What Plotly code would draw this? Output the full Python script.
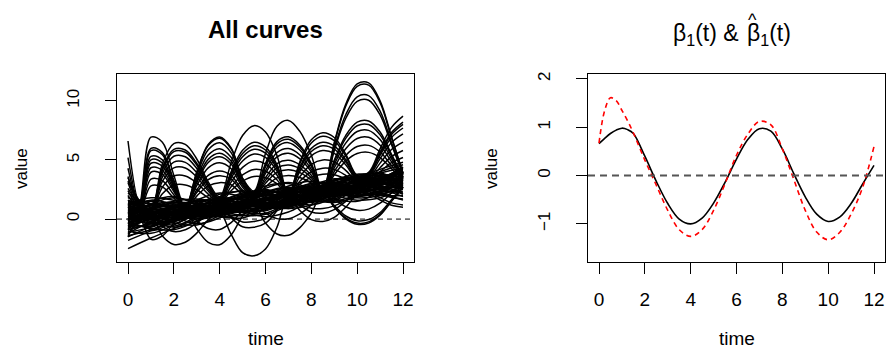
import plotly.graph_objects as go

# ---------------- data ----------------
time_coarse = [0, 1, 2, 3, 4, 5, 6, 7, 8, 9, 10, 11, 12]
time_fine = [0, 0.5, 1, 1.5, 2, 2.5, 3, 3.5, 4, 4.5, 5, 5.5, 6, 6.5, 7, 7.5,
             8, 8.5, 9, 9.5, 10, 10.5, 11, 11.5, 12]

# smooth "band" curves (sampled at integer times)
band_curves = [
    [0.2, 0.9, 1.3, 0.8, 0.4, 1.0, 2.2, 2.6, 1.9, 1.7, 2.8, 3.6, 3.2],
    [-0.8, 0.1, 0.9, 1.6, 1.5, 0.9, 1.1, 2.1, 2.9, 3.0, 2.3, 2.1, 2.8],
    [1.2, 1.5, 0.8, 0.3, 0.9, 2.0, 2.5, 1.8, 1.4, 2.2, 3.5, 3.9, 3.0],
    [0.5, -0.3, -0.6, 0.2, 1.3, 1.8, 1.2, 0.9, 1.6, 2.7, 3.1, 2.5, 2.2],
    [-1.5, -0.6, 0.4, 0.9, 0.6, 0.8, 1.6, 2.4, 2.5, 2.0, 2.2, 3.3, 4.2],
    [1.6, 1.0, 0.5, 1.0, 1.9, 2.4, 1.8, 1.3, 1.9, 3.0, 3.4, 2.8, 2.6],
    [0.0, 0.6, 0.2, -0.4, 0.1, 1.1, 1.7, 1.5, 1.2, 1.8, 2.9, 3.2, 2.5],
    [-0.4, 0.4, 1.1, 1.3, 0.8, 0.6, 1.3, 2.3, 2.8, 2.4, 1.9, 2.4, 3.6],
    [0.9, 0.2, 0.0, 0.7, 1.6, 1.7, 1.0, 1.0, 2.0, 3.1, 3.3, 2.6, 1.9],
    [-1.0, -1.2, -0.5, 0.5, 1.0, 0.6, 0.5, 1.4, 2.4, 2.6, 2.0, 2.2, 3.3],
    [0.4, 1.3, 1.8, 1.4, 1.0, 1.5, 2.6, 3.1, 2.6, 2.3, 3.0, 4.0, 4.6],
    [1.0, 0.3, 0.4, 1.2, 2.1, 2.3, 1.6, 1.5, 2.3, 3.3, 3.6, 3.3, 3.5],
    [-0.2, -0.8, -0.9, -0.2, 0.5, 0.6, 0.2, 0.6, 1.5, 1.9, 1.6, 1.8, 2.7],
    [0.7, 1.1, 0.9, 0.6, 0.8, 1.6, 2.3, 2.2, 1.9, 2.4, 3.2, 3.5, 3.9],
    [-0.6, 0.0, 0.6, 0.9, 0.5, 0.3, 0.9, 1.8, 2.1, 1.7, 1.5, 2.3, 3.0],
    [1.3, 1.8, 1.6, 1.0, 0.9, 1.8, 2.8, 3.0, 2.4, 2.5, 3.4, 4.2, 4.8],
    [0.1, -0.4, 0.1, 0.9, 1.1, 0.7, 0.8, 1.7, 2.5, 2.6, 2.4, 2.9, 3.8],
    [-1.8, -1.0, -0.2, 0.3, 0.2, 0.4, 1.3, 2.0, 1.8, 1.5, 2.1, 3.1, 3.4],
    [0.6, 0.7, 0.3, 0.4, 1.1, 1.4, 1.3, 1.6, 2.2, 2.7, 2.7, 2.9, 3.1],
    [0.3, 1.0, 1.5, 1.7, 1.3, 1.2, 1.9, 2.8, 3.2, 2.8, 2.6, 3.3, 4.1],
    [-0.3, 0.2, 0.3, 0.0, 0.3, 1.0, 1.4, 1.2, 1.5, 2.3, 2.9, 2.6, 2.3],
    [1.8, 1.2, 0.6, 0.6, 1.4, 2.2, 2.3, 1.7, 1.6, 2.6, 3.7, 3.8, 3.2],
    [-1.2, -0.2, 0.7, 1.1, 1.0, 1.0, 1.6, 2.3, 2.3, 2.1, 2.6, 3.5, 3.9],
    [0.8, 0.4, -0.3, -0.5, 0.3, 1.2, 1.3, 0.9, 1.2, 2.1, 2.6, 2.2, 1.6],
    [0.0, 0.8, 1.2, 1.0, 1.2, 1.9, 2.4, 2.1, 2.0, 2.8, 3.5, 3.4, 3.0],
    [-0.5, -0.6, 0.0, 0.6, 0.7, 0.9, 1.5, 1.9, 1.7, 1.9, 2.6, 3.1, 2.9],
    [1.1, 0.8, 1.0, 1.5, 1.7, 1.4, 1.6, 2.4, 3.0, 3.0, 2.8, 3.4, 4.4],
    [-0.9, -0.3, 0.5, 0.7, 0.2, 0.1, 0.9, 1.6, 1.6, 1.4, 1.9, 2.7, 2.6],
    [0.5, 1.5, 1.9, 1.2, 0.6, 1.2, 2.3, 2.7, 2.2, 2.0, 2.9, 3.7, 3.5],
    [-2.5, -1.6, -0.8, 0.0, 0.5, 0.6, 0.8, 1.3, 2.0, 2.4, 2.3, 2.5, 3.0],
    [0.2, 0.1, 0.5, 1.3, 1.8, 1.6, 1.1, 1.3, 2.2, 3.2, 3.5, 3.0, 2.7],
    [1.4, 0.7, 0.1, 0.3, 1.0, 1.5, 1.2, 1.1, 1.8, 2.5, 2.6, 2.3, 2.5],
    [-0.1, 0.5, 0.8, 0.5, 0.6, 1.3, 2.0, 2.0, 1.8, 2.2, 3.0, 3.3, 3.3],
    [0.6, -0.2, -0.4, 0.4, 0.9, 0.9, 1.0, 1.8, 2.7, 2.9, 2.4, 2.6, 3.5],
    [-0.7, 0.3, 1.0, 1.2, 1.6, 2.1, 2.4, 2.2, 2.5, 3.3, 3.8, 3.6, 3.6],
    [0.9, 1.6, 1.2, 0.4, 0.3, 0.9, 1.8, 2.0, 1.5, 1.6, 2.4, 2.8, 2.1],
    [0.3, 0.0, 0.2, 0.8, 1.4, 2.0, 2.1, 1.8, 2.1, 2.9, 3.2, 2.9, 3.2],
    [-1.4, -0.9, -0.1, 0.6, 0.7, 0.3, 0.4, 1.1, 1.9, 2.2, 1.8, 2.0, 2.9],
    [1.2, 0.5, 0.7, 1.6, 2.2, 1.9, 1.6, 2.0, 2.8, 3.4, 3.3, 3.5, 4.0],
    [0.0, 1.2, 1.4, 0.9, 0.8, 1.4, 2.1, 2.5, 2.6, 2.4, 2.5, 3.3, 4.4],
    [0.1, 0.3, 0.9, 1.5, 1.2, 0.7, 1.0, 1.9, 2.6, 2.5, 2.2, 2.8, 3.7],
    [-0.3, 0.5, 0.6, 0.2, 0.5, 1.4, 2.0, 1.7, 1.6, 2.4, 3.2, 3.0, 2.6],
    [0.8, 0.0, -0.2, 0.5, 1.2, 1.3, 0.9, 1.2, 2.1, 2.8, 2.7, 2.5, 3.0],
    [-0.9, -0.4, 0.2, 0.6, 0.9, 1.2, 1.6, 1.9, 2.1, 2.3, 2.6, 3.0, 3.4],
    [1.5, 1.3, 1.0, 0.9, 1.3, 1.9, 2.1, 2.0, 2.3, 3.0, 3.6, 3.7, 3.8],
    [0.4, 0.8, 0.5, 0.1, 0.4, 0.9, 1.2, 1.3, 1.9, 2.5, 2.4, 2.0, 2.0],
    [-0.2, 0.1, 0.7, 1.2, 1.4, 1.1, 1.3, 2.2, 3.0, 3.1, 2.8, 3.2, 4.0],
    [0.6, 1.2, 1.1, 0.7, 0.7, 1.4, 2.2, 2.4, 2.2, 2.5, 3.3, 3.9, 4.3],
    [-0.6, -0.5, -0.2, 0.3, 0.8, 1.0, 1.1, 1.4, 1.9, 2.1, 2.2, 2.6, 3.2],
    [0.2, 0.6, 1.0, 1.1, 1.0, 1.1, 1.6, 2.1, 2.4, 2.6, 2.9, 3.2, 3.4],
    [1.0, 0.6, 0.3, 0.8, 1.5, 1.7, 1.4, 1.5, 2.4, 3.3, 3.4, 3.0, 3.3],
    [-1.1, -0.7, 0.1, 0.9, 1.2, 0.8, 0.7, 1.5, 2.2, 2.3, 2.0, 2.4, 3.1],
    [0.5, 0.9, 1.4, 1.3, 0.9, 1.0, 1.7, 2.5, 2.7, 2.3, 2.4, 3.4, 4.3],
    [0.0, -0.3, -0.1, 0.6, 1.3, 1.5, 1.3, 1.4, 2.0, 2.9, 3.4, 3.2, 2.8],
    [1.3, 0.9, 0.8, 1.1, 1.5, 1.8, 2.0, 2.2, 2.6, 2.9, 3.0, 3.3, 3.9],
    [-0.4, 0.2, 0.4, 0.4, 0.6, 1.2, 1.8, 2.0, 1.9, 2.0, 2.7, 3.4, 3.4],
]

# curves with large arches (sampled every 0.5)
arch_curves = [
    [6.6, 1.4, 6.93, 6.5, 3.7, 1.0, 3.97, 6.31, 6.94, 6.02, 3.47, 2.37, 5.54, 7.85, 8.34, 7.41, 5.4, 2.43, 6.45, 9.7, 11.42, 11.52, 10.0, 6.95, 3.9],
    [5.2, 1.26, 5.97, 5.62, 3.27, 0.97, 3.92, 6.22, 6.84, 5.94, 3.43, 2.2, 4.7, 6.55, 6.95, 6.25, 4.7, 2.4, 6.36, 9.54, 11.22, 11.32, 9.84, 6.86, 3.88],
    [4.3, 1.23, 5.78, 5.44, 3.18, 0.96, 3.71, 5.86, 6.45, 5.62, 3.29, 2.18, 4.58, 6.36, 6.75, 6.08, 4.6, 2.4, 5.96, 8.82, 10.34, 10.44, 9.12, 6.46, 3.79],
    [3.6, 1.15, 5.3, 5.0, 2.95, 0.95, 3.45, 5.41, 5.95, 5.22, 3.12, 2.14, 4.4, 6.09, 6.46, 5.84, 4.45, 2.39, 5.78, 8.5, 9.95, 10.05, 8.8, 6.28, 3.75],
    [3.1, 1.11, 5.01, 4.74, 2.82, 0.94, 3.24, 5.05, 5.56, 4.9, 2.98, 2.08, 4.1, 5.62, 5.96, 5.42, 4.2, 2.38, 4.97, 7.06, 8.19, 8.29, 7.36, 5.47, 3.57],
    [2.4, 1.06, 4.72, 4.47, 2.68, 0.93, 3.08, 4.78, 5.26, 4.66, 2.87, 2.03, 3.86, 5.25, 5.56, 5.09, 4.0, 2.37, 4.83, 6.82, 7.89, 7.99, 7.12, 5.33, 3.54],
    [2.0, 1.0, 4.34, 4.12, 2.5, 0.92, 2.82, 4.33, 4.76, 4.26, 2.7, 1.96, 3.5, 4.69, 4.97, 4.59, 3.7, 2.36, 4.6, 6.42, 7.4, 7.5, 6.72, 5.1, 3.49],
    [1.6, 0.94, 3.96, 3.77, 2.32, 0.9, 2.46, 3.7, 4.07, 3.7, 2.45, 1.91, 3.26, 4.32, 4.57, 4.26, 3.5, 2.35, 4.34, 5.94, 6.81, 6.91, 6.24, 4.84, 3.43],
    [1.3, 0.85, 3.38, 3.24, 2.05, 0.89, 2.25, 3.34, 3.67, 3.38, 2.31, 1.86, 3.02, 3.95, 4.18, 3.93, 3.3, 2.34, 4.02, 5.38, 6.13, 6.23, 5.68, 4.52, 3.36],
    [1.0, 0.76, 2.8, 2.71, 1.78, 0.87, 1.94, 2.8, 3.08, 2.9, 2.1, 1.8, 2.72, 3.48, 3.68, 3.51, 3.05, 2.33, 3.75, 4.9, 5.54, 5.64, 5.2, 4.25, 3.3],
    [-1.5, 0.05, -1.71, -1.42, -0.34, 0.7, -0.82, -1.97, -2.17, -1.34, 0.24, 1.19, -0.34, -1.26, -1.37, -0.72, 0.5, 2.23, 1.05, 0.1, -0.34, -0.24, 0.4, 1.55, 2.7],
    [-0.9, 0.17, -0.94, -0.72, 0.02, 0.75, -0.14, -0.8, -0.88, -0.3, 0.7, 1.36, 0.5, 0.04, 0.02, 0.44, 1.2, 2.25, 1.14, 0.26, -0.14, -0.04, 0.56, 1.64, 2.72],
    [-0.12, 0.56, -0.06, 0.11, 0.59, 1.08, 0.63, 0.31, 0.31, 0.72, 1.31, 1.76, 1.28, 1.08, 1.11, 1.4, 1.9, 2.58, 1.71, 1.04, 0.74, 0.84, 1.34, 2.21, 3.08],
    [-0.18, 0.31, -0.08, 0.07, 0.43, 0.78, 0.48, 0.28, 0.31, 0.66, 1.12, 1.48, 1.1, 0.97, 1.01, 1.27, 1.7, 2.28, 1.0, 0.02, -0.44, -0.34, 0.32, 1.5, 2.69],
    [3.49, 1.56, 0.79, 4.66, 6.38, 6.31, 5.08, 3.15, 1.86, 4.77, 7.07, 7.9, 7.37, 5.37, 2.1, 4.85, 6.7, 7.3, 6.9, 5.5, 3.7, 3.95, 5.94, 7.75, 8.7],
    [3.22, 1.46, 0.77, 4.31, 5.89, 5.84, 4.72, 2.96, 1.69, 4.0, 5.81, 6.5, 6.11, 4.6, 2.1, 4.69, 6.43, 7.0, 6.63, 5.32, 3.63, 3.84, 5.66, 7.32, 8.2],
    [2.2, 1.42, 0.76, 4.17, 5.7, 5.65, 4.57, 2.89, 1.65, 3.83, 5.54, 6.2, 5.84, 4.43, 2.09, 4.41, 5.98, 6.5, 6.18, 5.02, 3.52, 3.8, 5.55, 7.15, 8.0],
    [1.5, 1.34, 0.74, 3.89, 5.31, 5.27, 4.28, 2.74, 1.62, 3.67, 5.27, 5.9, 5.57, 4.27, 2.08, 4.25, 5.71, 6.2, 5.91, 4.84, 3.46, 3.73, 5.39, 6.9, 7.7],
    [2.6, 1.24, 0.71, 3.54, 4.82, 4.79, 3.92, 2.55, 1.57, 3.45, 4.91, 5.5, 5.21, 4.05, 2.07, 4.03, 5.35, 5.8, 5.55, 4.6, 3.37, 3.62, 5.11, 6.47, 7.2],
    [1.0, 1.14, 0.69, 3.19, 4.33, 4.32, 3.56, 2.37, 1.5, 3.12, 4.37, 4.9, 4.67, 3.72, 2.05, 3.59, 4.63, 5.0, 4.83, 4.12, 3.19, 3.47, 4.73, 5.88, 6.5],
    [1.9, 1.0, 0.65, 2.7, 3.64, 3.65, 3.06, 2.11, 1.41, 2.73, 3.74, 4.2, 4.04, 3.33, 2.04, 3.2, 4.0, 4.3, 4.2, 3.7, 3.04, 3.32, 4.34, 5.28, 5.8],
    [1.2, 0.84, 0.61, 2.14, 2.86, 2.89, 2.48, 1.81, 1.34, 2.4, 3.2, 3.6, 3.5, 3.0, 2.03, 2.93, 3.55, 3.8, 3.75, 3.4, 2.93, 3.18, 4.01, 4.77, 5.2],
    [-1.3, -0.18, 0.35, -1.43, -2.14, -1.96, -1.19, -0.07, 0.54, -1.29, -2.83, -3.1, -2.53, -0.69, 1.95, 0.72, -0.05, -0.2, 0.15, 1.0, 2.05, 2.3, 1.81, 1.37, 1.2],
    [-0.4, 0.2, 0.6, -0.6, -1.06, -0.9, -0.34, 0.46, 1.0, 0.12, -0.65, -0.7, -0.35, 0.72, 2.16, 1.2, 0.6, 0.5, 0.8, 1.5, 2.36, 2.57, 2.17, 1.82, 1.7],
    [-0.56, -0.04, 0.24, -0.44, -0.68, -0.54, -0.16, 0.36, 0.71, 0.22, -0.24, -0.2, 0.06, 0.82, 1.78, 1.24, 0.92, 0.9, 1.12, 1.58, 2.0, 2.1, 1.61, 1.17, 1.0],
]

# right panel: true and estimated coefficient function
beta_time = [0, 0.25, 0.5, 0.75, 1, 1.25, 1.5, 2, 2.5, 3, 3.5, 4, 4.5, 5, 5.5, 6,
             6.5, 7, 7.5, 8, 8.5, 9, 9.5, 10, 10.5, 11, 11.5, 12]
beta_true = [0.66, 0.77, 0.87, 0.94, 0.98, 0.95, 0.87, 0.40, -0.12, -0.58, -0.90, -1.0,
             -0.88, -0.57, -0.14, 0.34, 0.75, 0.97, 0.92, 0.55, 0.04, -0.44, -0.80, -0.95,
             -0.86, -0.58, -0.18, 0.21]
beta_hat = [0.67, 1.35, 1.61, 1.55, 1.35, 1.13, 0.88, 0.32, -0.2, -0.72, -1.12, -1.26,
            -1.12, -0.72, -0.17, 0.42, 0.86, 1.12, 1.05, 0.55, -0.08, -0.72, -1.17, -1.33,
            -1.18, -0.80, -0.25, 0.60]

x_ticks = [0, 2, 4, 6, 8, 10, 12]
y_ticks_left = [0, 5, 10]
y_ticks_right = [-1, 0, 1, 2]

# ---------------- figure ----------------
W, H = 888, 348
FONT = "Liberation Sans, Arial, Helvetica, sans-serif"
CURVE_W = 1.5

fig = go.Figure()

for c in band_curves:
    fig.add_trace(go.Scatter(x=time_coarse, y=c, mode="lines",
                             line=dict(color="black", width=CURVE_W, shape="spline"),
                             xaxis="x", yaxis="y", hoverinfo="skip", showlegend=False))
for c in arch_curves:
    fig.add_trace(go.Scatter(x=time_fine, y=c, mode="lines",
                             line=dict(color="black", width=CURVE_W, shape="spline"),
                             xaxis="x", yaxis="y", hoverinfo="skip", showlegend=False))

fig.add_trace(go.Scatter(x=beta_time, y=beta_true, mode="lines",
                         line=dict(color="black", width=1.6, shape="spline"),
                         xaxis="x2", yaxis="y2", hoverinfo="skip", showlegend=False))
fig.add_trace(go.Scatter(x=beta_time, y=beta_hat, mode="lines",
                         line=dict(color="#ff0000", width=1.6, dash="5px,4px", shape="spline"),
                         xaxis="x2", yaxis="y2", hoverinfo="skip", showlegend=False))


def px_x(p):
    return p / W


def px_y(p):
    return 1 - p / H


axis_common = dict(showline=True, linecolor="black", linewidth=1, mirror=True,
                   ticks="outside", ticklen=11, tickcolor="black", tickwidth=1,
                   showgrid=False, zeroline=False, fixedrange=True)

fig.update_layout(
    width=W, height=H,
    margin=dict(l=0, r=0, t=0, b=0),
    paper_bgcolor="white", plot_bgcolor="white",
    font=dict(family=FONT, color="black"),
    xaxis=dict(domain=[px_x(117), px_x(414)], range=[-0.48, 12.48], tickvals=x_ticks,
               tickfont=dict(size=19), ticklabelstandoff=9, anchor="y", **axis_common),
    yaxis=dict(domain=[px_y(262), px_y(72)], range=[-3.67, 12.3], tickvals=y_ticks_left,
               tickangle=-90, tickfont=dict(size=17), ticklabelstandoff=19, anchor="x",
               **axis_common),
    xaxis2=dict(domain=[px_x(588), px_x(885)], range=[-0.48, 12.48], tickvals=x_ticks,
                tickfont=dict(size=19), ticklabelstandoff=9, anchor="y2", **axis_common),
    yaxis2=dict(domain=[px_y(262), px_y(72)], range=[-1.80, 2.11], tickvals=y_ticks_right,
                tickangle=-90, tickfont=dict(size=17), ticklabelstandoff=19, anchor="x2",
                **axis_common),
)

# reference lines at zero
fig.add_shape(type="line", xref="x domain", yref="y", x0=0, x1=1, y0=0, y1=0,
              line=dict(color="black", width=1, dash="5px,4px"), layer="above")
fig.add_shape(type="line", xref="x2 domain", yref="y2", x0=0, x1=1, y0=0, y1=0,
              line=dict(color="#555555", width=2, dash="7px,5px"), layer="above")

# titles and axis labels
fig.add_annotation(text="<b>All curves</b>", x=px_x(265.5), y=px_y(28), xref="paper", yref="paper",
                   showarrow=False, xanchor="center", yanchor="middle",
                   font=dict(size=24, family=FONT))
# right title: "β1(t) & β̂1(t)" built from pieces so the hat sits over the second beta
TITLE_SIZE = 23
fig.add_annotation(text="β<sub>1</sub>(t) &amp;", x=px_x(741), y=px_y(33),
                   xref="paper", yref="paper", showarrow=False, xanchor="right",
                   yanchor="middle", font=dict(size=TITLE_SIZE, family=FONT))
fig.add_annotation(text="β<sub>1</sub>(t)", x=px_x(745), y=px_y(33),
                   xref="paper", yref="paper", showarrow=False, xanchor="left",
                   yanchor="middle", font=dict(size=TITLE_SIZE, family=FONT))
fig.add_annotation(text="^", x=px_x(752), y=px_y(18),
                   xref="paper", yref="paper", showarrow=False, xanchor="center",
                   yanchor="middle", font=dict(size=18, family=FONT))
for cx in (265.5, 736.5):
    fig.add_annotation(text="time", x=px_x(cx), y=px_y(338), xref="paper", yref="paper",
                       showarrow=False, xanchor="center", yanchor="middle",
                       font=dict(size=19, family=FONT))
for cx in (21.5, 491.5):
    fig.add_annotation(text="value", x=px_x(cx), y=px_y(167.5), xref="paper", yref="paper",
                       showarrow=False, xanchor="center", yanchor="middle", textangle=-90,
                       font=dict(size=17, family=FONT))

fig.write_html("out.html")
